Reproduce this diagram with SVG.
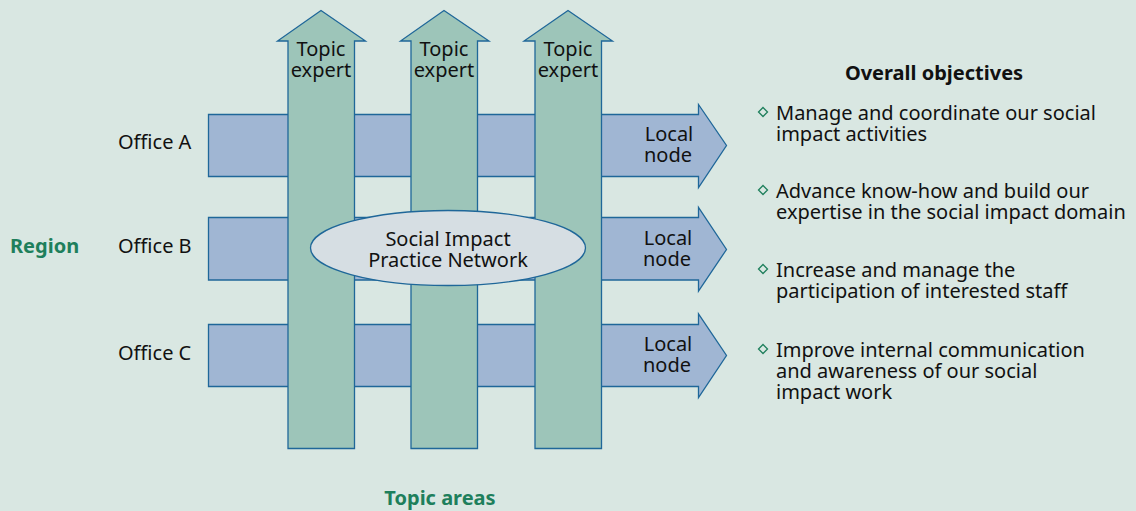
<svg xmlns="http://www.w3.org/2000/svg" width="1136" height="511" viewBox="0 0 1136 511">
  <style>
    .bg { fill: #d9e7e2; }
    .h { fill: #a0b6d3; stroke: #1f6799; stroke-width: 1.3; stroke-linejoin: miter; }
    .v { fill: #9dc5b9; stroke: #1f6799; stroke-width: 1.3; stroke-linejoin: miter; }
    .hub { fill: #d6dee3; stroke: #1f6799; stroke-width: 1.3; }
    text { font-family: "Noto Sans", "Open Sans", sans-serif; fill: #111; font-size: 20px; }
    .c { text-anchor: middle; }
    .hd { font-weight: bold; fill: #1e7f5c; }
    .ttl { font-weight: bold; fill: #111; }
    .dia { fill: none; stroke: #1e7f5c; stroke-width: 1.3; }
  </style>
  <rect class="bg" x="0" y="0" width="1136" height="511"/>

  <g id="connectors">
    <!-- horizontal office arrows (behind) -->
    <g id="row-a">
      <path class="h" d="M208.5,114.5 H698.5 V104.5 L726.5,145.5 L698.5,187.5 V176.5 H208.5 Z"/>
    </g>
    <g id="row-b">
      <path class="h" d="M208.5,217.5 H698.5 V207.5 L726.5,249.5 L698.5,291 V280 H208.5 Z"/>
    </g>
    <g id="row-c">
      <path class="h" d="M208.5,324.5 H698.5 V314 L726.5,355.5 L698.5,397.5 V386.5 H208.5 Z"/>
    </g>
    <!-- vertical topic arrows (front) -->
    <g id="col-1">
      <path class="v" d="M288,448.5 V41 H277.5 L321,10.5 L365.5,41 H354.5 V448.5 Z"/>
    </g>
    <g id="col-2">
      <path class="v" d="M411,448.5 V41 H400.5 L444,10.5 L489,41 H477.5 V448.5 Z"/>
    </g>
    <g id="col-3">
      <path class="v" d="M535,448.5 V41 H524 L568,10.5 L612.5,41 H601.5 V448.5 Z"/>
    </g>
  </g>

  <!-- topic expert labels -->
  <g id="expert-1"><text class="c" x="321" y="56">Topic</text><text class="c" x="321" y="77">expert</text></g>
  <g id="expert-2"><text class="c" x="444" y="56">Topic</text><text class="c" x="444" y="77">expert</text></g>
  <g id="expert-3"><text class="c" x="568" y="56">Topic</text><text class="c" x="568" y="77">expert</text></g>

  <!-- local node labels -->
  <g id="local-a"><text class="c" x="669" y="141">Local</text><text class="c" x="668" y="162">node</text></g>
  <g id="local-b"><text class="c" x="668" y="245">Local</text><text class="c" x="667" y="266">node</text></g>
  <g id="local-c"><text class="c" x="668" y="351">Local</text><text class="c" x="667" y="372">node</text></g>

  <!-- office labels -->
  <g id="office-a"><text x="118" y="149">Office A</text></g>
  <g id="office-b"><text x="118" y="253">Office B</text></g>
  <g id="office-c"><text x="118" y="360">Office C</text></g>

  <!-- central hub -->
  <g id="hub">
    <ellipse class="hub" cx="448" cy="248" rx="137.5" ry="37.5"/>
    <text class="c" x="448" y="246">Social Impact</text>
    <text class="c" x="448" y="267">Practice Network</text>
  </g>

  <!-- axis headings -->
  <g id="region"><text class="hd" x="10" y="253">Region</text></g>
  <g id="topic-areas"><text class="hd c" x="440" y="505">Topic areas</text></g>

  <!-- objectives list -->
  <g id="objectives">
    <text class="ttl c" x="934" y="80">Overall objectives</text>
    <path class="dia" d="M763,107.5 l4.5,4.5 l-4.5,4.5 l-4.5,-4.5 Z"/>
    <text x="776" y="120">Manage and coordinate our social</text>
    <text x="776" y="141">impact activities</text>
    <path class="dia" d="M763,185.5 l4.5,4.5 l-4.5,4.5 l-4.5,-4.5 Z"/>
    <text x="776" y="198">Advance know-how and build our</text>
    <text x="776" y="219">expertise in the social impact domain</text>
    <path class="dia" d="M763,264.5 l4.5,4.5 l-4.5,4.5 l-4.5,-4.5 Z"/>
    <text x="776" y="277">Increase and manage the</text>
    <text x="776" y="298">participation of interested staff</text>
    <path class="dia" d="M763,344.5 l4.5,4.5 l-4.5,4.5 l-4.5,-4.5 Z"/>
    <text x="776" y="357">Improve internal communication</text>
    <text x="776" y="378">and awareness of our social</text>
    <text x="776" y="399">impact work</text>
  </g>
</svg>
